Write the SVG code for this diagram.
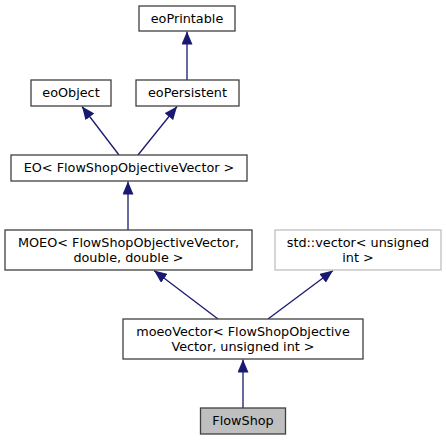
<svg xmlns="http://www.w3.org/2000/svg" width="446" height="440" viewBox="0 0 446 440">
<style>
.box{fill:#ffffff;stroke:#404040;stroke-width:1.3}
.cur{fill:#bfbfbf;stroke:#404040;stroke-width:1.3}
.ext{fill:#ffffff;stroke:#bfbfbf;stroke-width:1.3}
text{font-family:"DejaVu Sans",sans-serif;font-size:12.8px;fill:#000000;text-anchor:middle}
.edge{stroke:#191970;stroke-width:1.3;fill:none;marker-end:url(#ah)}
</style>
<defs>
<marker id="ah" viewBox="0 0 13 11" refX="13" refY="5.5" markerWidth="13" markerHeight="11" markerUnits="userSpaceOnUse" orient="auto">
<path d="M0,0 L13,5.5 L0,11 Z" fill="#191970"/>
</marker>
</defs>
<g id="connectors">
<line class="edge" x1="187" y1="80" x2="187" y2="31.5"/>
<line class="edge" x1="119" y1="155" x2="82" y2="106.5"/>
<line class="edge" x1="138" y1="155" x2="177" y2="106.5"/>
<line class="edge" x1="128" y1="230" x2="128" y2="181.5"/>
<line class="edge" x1="218" y1="319" x2="154" y2="270.5"/>
<line class="edge" x1="268" y1="319" x2="333" y2="270.5"/>
<line class="edge" x1="243" y1="408" x2="243" y2="359.5"/>
</g>
<g id="eoPrintable">
<rect class="box" x="139" y="6" width="96" height="25"/>
<text x="187" y="23">eoPrintable</text>
</g>
<g id="eoObject">
<rect class="box" x="31" y="80" width="80" height="26"/>
<text x="71" y="97">eoObject</text>
</g>
<g id="eoPersistent">
<rect class="box" x="136" y="80" width="103" height="26"/>
<text x="187.5" y="97">eoPersistent</text>
</g>
<g id="EO">
<rect class="box" x="11" y="155" width="236" height="26"/>
<text x="129" y="172">EO&lt; FlowShopObjectiveVector &gt;</text>
</g>
<g id="MOEO">
<rect class="box" x="5" y="230" width="247" height="40"/>
<text x="128.5" y="246.5">MOEO&lt; FlowShopObjectiveVector,</text>
<text x="128.5" y="261.5">double, double &gt;</text>
</g>
<g id="stdvector">
<rect class="ext" x="275" y="230" width="166" height="40"/>
<text x="358" y="246.5">std::vector&lt; unsigned</text>
<text x="358" y="261.5">int &gt;</text>
</g>
<g id="moeoVector">
<rect class="box" x="123" y="319" width="240" height="40"/>
<text x="243" y="335.5">moeoVector&lt; FlowShopObjective</text>
<text x="243" y="350.5">Vector, unsigned int &gt;</text>
</g>
<g id="FlowShop">
<rect class="cur" x="200.5" y="408" width="85" height="26"/>
<text x="243" y="425">FlowShop</text>
</g>
</svg>
